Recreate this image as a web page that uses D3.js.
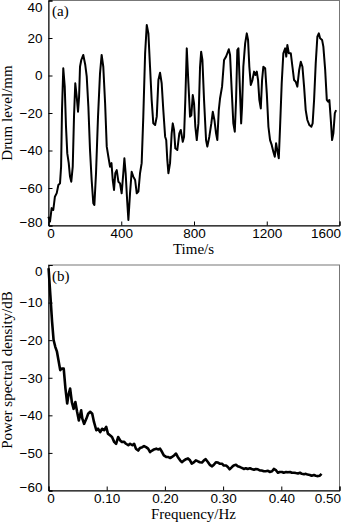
<!DOCTYPE html>
<html>
<head>
<meta charset="utf-8">
<script src="https://cdn.jsdelivr.net/npm/d3@7/dist/d3.min.js"></script>
<style>
	body { margin: 0; background: #fff; }
	svg { display: block; font-family: "Liberation Serif", "DejaVu Serif", serif; }
	.tick line { stroke: #000; }
	.tick text { font-size: 13.5px; fill: #000; }
	.ttl { font-size: 15px; fill: #000; }
</style>
</head>
<body>
<div id="js-chart"></div>
<script>
// (a) drum level, time in s / level in mm
const timeS = [2, 11, 20, 29, 38, 48, 57, 66, 72, 77, 84, 92, 99, 106, 114, 121, 128, 136, 143, 150,
	158, 165, 171, 176, 183, 194, 205, 213, 222, 231, 240, 249, 255, 264, 275, 286, 295, 304, 314, 323,
	332, 341, 349, 356, 363, 370, 378, 387, 396, 405, 414, 420, 427, 435, 442, 451, 460, 469, 479, 488,
	497, 506, 515, 524, 534, 543, 552, 561, 570, 579, 589, 598, 607, 616, 625, 634, 644, 650, 656, 662,
	671, 680, 686, 693, 700, 711, 722, 730, 741, 748, 755, 763, 772, 781, 788, 796, 803, 810, 818, 827,
	836, 842, 849, 858, 869, 876, 887, 898, 906, 915, 924, 931, 939, 946, 957, 968, 979, 986, 994, 1001,
	1010, 1019, 1027, 1034, 1041, 1047, 1054, 1062, 1067, 1074, 1084, 1093, 1100, 1107, 1115, 1124, 1133, 1140, 1148, 1155,
	1162, 1170, 1177, 1184, 1194, 1203, 1212, 1221, 1230, 1239, 1247, 1254, 1262, 1269, 1276, 1285, 1294, 1304, 1310, 1316,
	1324, 1335, 1344, 1353, 1362, 1371, 1381, 1390, 1399, 1408, 1417, 1426, 1437, 1448, 1455, 1463, 1472, 1481, 1489, 1496,
	1507, 1514, 1524, 1533, 1540, 1547, 1555, 1562, 1569, 1577, 1584];
const drumLevel = [-75.6, -78.2, -71, -72, -64.9, -63, -58.7, -57.8, -48.9, -18.7, 3.6, -6.2, -27.6, -41.8, -47, -54.2, -56.9, -48.9, -22.2, -4.4,
	-11.6, -19.6, -11.6, 4.4, 8, 10.7, 5.3, -0.9, -16.9, -40, -56, -68.4, -69.3, -52.4, -22.2, 0.9, 10.7, 4.4, -15.1, -38.2,
	-43.6, -48.9, -47, -56, -61.3, -52.4, -50.7, -56.9, -57.8, -63.1, -52.4, -44.4, -52.4, -66.7, -77.3, -63, -51.6, -54.2, -56, -63.1,
	-62.2, -52.4, -47, -22.2, 11.6, 26.7, 22.2, 4.4, -13.3, -25.8, -26.7, -22.2, -2.7, 1.2, -4.4, -18.7, -32.9, -34.7, -45.3, -52.4,
	-47, -31.1, -25.8, -29.3, -39.1, -40, -31.1, -29.3, -35.6, -32.9, -13.3, 14.2, -4.4, -22.2, -21.5, -10.7, -15.1, -27.6, -34.7, -25.8,
	4.4, 12.4, 8, -13.3, -34.7, -38.2, -32.9, -25.8, -19.6, -24, -31.1, -34.7, -18.7, -12.4, -6.2, 8, 9.8, 11.6, 13.7, 10.7,
	-8, -25.8, -30.2, -13.3, 13.3, 14.2, -4.4, -25.8, -16.9, 4.4, 16.9, 22.2, 18.7, 4.4, -5.3, -2.7, 1.8, 0, 1.8, -2.7,
	-13.3, -17.8, -2.7, 4.4, 3.6, -9.8, -27.6, -34.7, -37.3, -40.9, -43.6, -36.4, -40.9, -44.4, -27.6, -4.4, 11.6, 14.2, 9.8, 16,
	11.6, 11.6, 4.4, -2.7, -3.6, -6.2, 2.7, 7.1, 4.4, -6.2, -18.7, -24, -26.7, -27.6, -25.8, -13.3, 6.2, 20.4, 22.2, 19.6,
	18.7, 15.1, 2.7, -13.3, -14.2, -13.3, -24, -34.7, -31.1, -20.4, -18.7];

// (b) power spectral density, frequency in Hz / PSD in dB
const freqHz = [0.001, 0.004, 0.007, 0.0096, 0.0125, 0.0154, 0.018, 0.021, 0.024, 0.027, 0.03, 0.033, 0.035, 0.038, 0.041, 0.044, 0.047, 0.05, 0.053, 0.057,
	0.059, 0.062, 0.066, 0.069, 0.0725, 0.076, 0.079, 0.083, 0.086, 0.0897, 0.093, 0.0965, 0.1, 0.103, 0.107, 0.11, 0.1137, 0.117, 0.1205, 0.124,
	0.127, 0.131, 0.134, 0.138, 0.141, 0.145, 0.148, 0.151, 0.155, 0.158, 0.162, 0.165, 0.1685, 0.172, 0.1754, 0.179, 0.182, 0.186, 0.189, 0.1925,
	0.196, 0.199, 0.203, 0.206, 0.21, 0.213, 0.2165, 0.22, 0.223, 0.227, 0.23, 0.234, 0.237, 0.2405, 0.244, 0.247, 0.251, 0.254, 0.258, 0.261,
	0.2645, 0.268, 0.271, 0.275, 0.278, 0.282, 0.285, 0.2885, 0.292, 0.295, 0.299, 0.302, 0.306, 0.309, 0.312, 0.316, 0.319, 0.323, 0.326, 0.33,
	0.333, 0.3365, 0.34, 0.343, 0.347, 0.35, 0.354, 0.357, 0.3605, 0.364, 0.367, 0.371, 0.374, 0.378, 0.381, 0.385, 0.388, 0.392, 0.395, 0.398,
	0.402, 0.405, 0.409, 0.412, 0.416, 0.419, 0.423, 0.426, 0.4295, 0.433, 0.436, 0.44, 0.443, 0.446, 0.45, 0.453, 0.457, 0.46, 0.464, 0.467, 0.47];
const psdDb = [-1, -8.1, -15.2, -20.1, -21.9, -23.2, -25.5, -28.1, -27.7, -27.7, -33, -37, -34.8, -33, -36.6, -38.4, -36.6, -39.2, -41.5, -38.8,
	-41, -42.4, -41, -39.7, -39.2, -39.7, -41.9, -44.1, -43.7, -44.6, -43.7, -44.1, -43.2, -45, -45.5, -45.9, -47.2, -47.7, -45.9, -46.8,
	-47.2, -47.2, -47.7, -48.1, -47.7, -48.1, -47.7, -49, -49.5, -48.8, -48.6, -48.3, -48.6, -49, -49.9, -49.5, -49.2, -49, -49.2, -49,
	-49.9, -50.8, -51.2, -51.2, -51.5, -51.2, -50.8, -50.3, -51.2, -52.1, -52.6, -52.1, -51.8, -51.6, -52.1, -53, -52.6, -52.1, -52.4, -52.6,
	-52.7, -52.1, -51.8, -52.6, -53.3, -53.7, -53.3, -52.6, -52.7, -53, -53, -53.5, -53.5, -53.9, -54.5, -53.9, -53.5, -53.3, -53.7, -53.9,
	-54.1, -54.4, -54.2, -54.4, -54.2, -54.4, -54.6, -54.4, -54.5, -54.8, -54.8, -55, -55, -54.9, -55.2, -55, -54.4, -54.8, -55.4, -55.2,
	-55.2, -55.4, -55.2, -55.3, -55.2, -55.4, -55.4, -55.5, -55.6, -55.4, -55.7, -55.8, -55.7, -55.9, -56, -56.2, -56, -56.2, -56.3, -56.2, -55.7];

const levelTicks = [40, 20, 0, -20, -40, -60, -80];
const timeTicks = [0, 400, 800, 1200, 1600];
const psdTicks = [0, -10, -20, -30, -40, -50, -60];
const freqTicks = [0, 0.1, 0.2, 0.3, 0.4, 0.5];

const W = 350, H = 523;
const left = 48, right = 339;

const svg = d3.select('#js-chart')
	.append('svg')
	.attr('width', W)
	.attr('height', H);

const fmtNum = d => d < 0 ? '\u2212' + (-d) : String(d);
const fmtFreq = d => d === 0 ? '0' : d3.format('.2f')(d);

function panel(cfg) {
	const x = d3.scaleLinear().domain(cfg.xDomain).range([left, right]);
	const y = d3.scaleLinear().domain(cfg.yDomain).range([cfg.bottom, cfg.top]);
	const g = svg.append('g');

	// frame (top / right in grey)
	g.append('rect')
		.attr('x', left + 0.5)
		.attr('y', cfg.top + 0.5)
		.attr('width', right - left)
		.attr('height', cfg.bottom - cfg.top)
		.attr('fill', 'none')
		.attr('stroke', '#777')
		.attr('stroke-width', 1);

	// x axis
	const gx = g.append('g')
		.attr('transform', `translate(0.5,${cfg.bottom + 0.5})`)
		.call(d3.axisBottom(x).tickValues(cfg.xTicks).tickFormat(cfg.xFmt).tickSize(-4).tickPadding(6));
	gx.select('.domain').attr('stroke', '#000');
	gx.selectAll('.tick text').attr('y', 12).attr('dy', 0);
	gx.selectAll('.tick').filter((d, i, n) => i === n.length - 1)
		.select('text').attr('text-anchor', 'end').attr('x', 1);
	gx.selectAll('.tick').filter((d, i) => i === 0)
		.select('text').attr('x', 2);

	// y axis
	const gy = g.append('g')
		.attr('transform', `translate(${left + 0.5},0.5)`)
		.call(d3.axisLeft(y).tickValues(cfg.yTicks).tickFormat(fmtNum).tickSize(-4).tickPadding(6));
	gy.select('.domain').attr('stroke', '#000');
	gy.selectAll('.tick text').attr('x', -6);
	gy.selectAll('.tick').filter(d => d === cfg.yDomain[1]).select('text').attr('dy', '0.8em');
	gy.selectAll('.tick').filter(d => d === cfg.yDomain[0]).select('text').attr('dy', '0.05em');

	// series
	const line = d3.line()
		.x(d => x(d[0]))
		.y(d => y(d[1]));
	g.append('path')
		.datum(d3.zip(cfg.xs, cfg.ys))
		.attr('d', line)
		.attr('fill', 'none')
		.attr('stroke', '#000')
		.attr('stroke-width', cfg.lw)
		.attr('stroke-linejoin', 'round');

	// panel tag
	g.append('text')
		.attr('class', 'ttl')
		.attr('x', left + 4)
		.attr('y', cfg.top + 16)
		.text(cfg.tag);

	// titles
	g.append('text')
		.attr('class', 'ttl')
		.attr('text-anchor', 'middle')
		.attr('x', (left + right) / 2)
		.attr('y', cfg.bottom + cfg.xTitleDy)
		.text(cfg.xTitle);
	g.append('text')
		.attr('class', 'ttl')
		.attr('text-anchor', 'middle')
		.attr('transform', `translate(12,${cfg.yTitleY}) rotate(-90)`)
		.text(cfg.yTitle);
}

panel({
	xDomain: [0, 1600], yDomain: [-80, 40], top: 0, bottom: 225,
	xTicks: timeTicks, yTicks: levelTicks, xFmt: d => String(d),
	xs: timeS, ys: drumLevel, lw: 2,
	tag: '(a)', xTitle: 'Time/s', yTitle: 'Drum level/mm', yTitleY: 113, xTitleDy: 29
});

panel({
	xDomain: [0, 0.5], yDomain: [-60, 0], top: 264.5, bottom: 490,
	xTicks: freqTicks, yTicks: psdTicks, xFmt: fmtFreq,
	xs: freqHz, ys: psdDb, lw: 2.6,
	tag: '(b)', xTitle: 'Frequency/Hz', yTitle: 'Power spectral density/dB', yTitleY: 370, xTitleDy: 29
});
</script>
</body>
</html>
